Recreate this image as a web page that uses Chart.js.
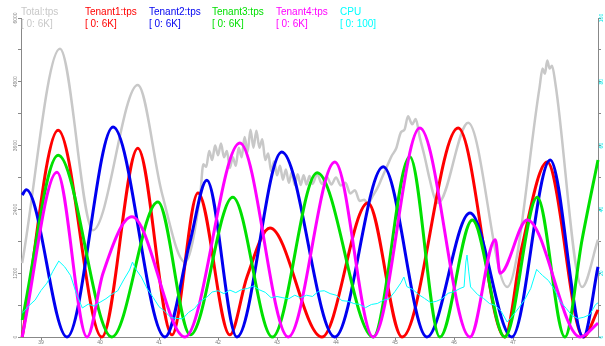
<!DOCTYPE html>
<html lang="en">
<head>
<meta charset="UTF-8">
<title>tps / CPU</title>
<script src="https://cdn.jsdelivr.net/npm/chart.js@4.4.1/dist/chart.umd.min.js"></script>
<style>
    html, body { margin: 0; padding: 0; background: #fff; }
    .wrap { position: relative; width: 605px; height: 346px; }
    .legend { position: absolute; top: 6px; font-family: 'Liberation Sans', Arial, sans-serif; font-size: 10px; line-height: 12px; white-space: nowrap; }
</style>
</head>
<body>
<div class="wrap" id="wrap">
    <canvas id="c" width="605" height="346"></canvas>
</div>
<script>
// legend text
const seriesNames  = ['Total:tps', 'Tenant1:tps', 'Tenant2:tps', 'Tenant3:tps', 'Tenant4:tps', 'CPU'];
const seriesRanges = ['[ 0: 6K]', '[ 0: 6K]', '[ 0: 6K]', '[ 0: 6K]', '[ 0: 6K]', '[ 0: 100]'];
const seriesColors = ['#c8c8c8', '#ff0000', '#0000f0', '#00e000', '#ff00ff', '#00ffff'];

// tick labels
const xTickLabels     = [39, 40, 41, 42, 43, 44, 45, 46, 47];
const leftTickLabels  = [0, 1200, 2400, 3600, 4800, 6000];
const rightTickLabels = [0, 20, 40, 60, 80, 100];

// Total tps (noisy parts read as a zigzag)
const totalX = [38.68, 39.32, 39.88, 40.64, 41.05, 41.44,
                41.70, 41.75, 41.80, 41.85, 41.90, 41.95, 42.00, 42.05, 42.10, 42.15, 42.20, 42.25, 42.30, 42.35, 42.40, 42.45, 42.50,
                42.55, 42.60, 42.65, 42.70, 42.75, 42.80, 42.85, 42.90, 42.95, 43.00, 43.05, 43.10, 43.15, 43.20, 43.25, 43.30, 43.35,
                43.40, 43.45, 43.50, 43.55, 43.60, 43.68, 43.76, 43.84, 43.92, 44.00, 44.08, 44.16, 44.24, 44.32, 44.40, 44.48, 44.54,
                44.62, 44.70, 44.78, 44.86, 44.94, 45.02, 45.10, 45.16, 45.22, 45.29, 45.35, 45.42, 45.50, 45.58, 45.66, 45.73,
                46.24, 46.90, 47.45, 47.50, 47.54, 47.58, 47.62, 47.66, 47.72, 48.17, 48.44];
const totalY = [1390, 5420, 2010, 4740, 2700, 1410,
                2700, 3250, 3200, 3500, 3330, 3600, 3420, 3640, 3380, 3500, 3180, 3380, 3220, 3560, 3380, 3760, 3480,
                3900, 3560, 3880, 3560, 3720, 3330, 3450, 3120, 3300, 3040, 3220, 2960, 3150, 2900, 3100, 2860, 3060,
                2860, 3040, 2870, 3030, 2880, 3060, 2880, 3020, 2870, 3000, 2850, 2900, 2700, 2760, 2560, 2580, 2500,
                2650, 2800, 3000, 3200, 3400, 3550, 3850, 3900, 4150, 4000, 4100, 3750, 3400, 3000, 2650, 2520,
                4030, 940, 4700, 5050, 4950, 5200, 5050, 5100, 4750, 940, 1830];

// Tenant1
const t1X = [38.68, 39.29, 40.03, 40.64, 41.22, 41.66, 42.20, 42.49, 42.88, 43.76, 44.54, 45.12, 46.07, 46.86, 47.15, 47.58, 48.19, 48.44];
const t1Y = [0, 3890, 0, 3550, 40, 2710, 40, 1130, 2050, 0, 2520, 0, 3930, 0, 1690, 3290, 0, 510];

// Tenant2
const t2X = [38.68, 38.75, 39.44, 40.22, 41.10, 41.52, 41.81, 42.32, 43.08, 43.98, 44.80, 45.54, 46.27, 46.98, 47.63, 48.19, 48.44];
const t2Y = [2670, 2770, 0, 3950, 0, 1770, 2950, 0, 3480, 0, 3200, 0, 2330, 0, 3330, 0, 1320];

// Tenant3
const t3X = [38.68, 39.29, 40.20, 40.98, 41.53, 42.25, 42.92, 43.68, 44.63, 45.25, 45.76, 46.31, 46.86, 47.41, 47.88, 48.17, 48.44];
const t3Y = [320, 3420, 0, 2540, 40, 2630, 0, 3090, 0, 3390, 0, 2200, 0, 2630, 0, 1830, 3330];

// Tenant4
const t4X = [38.68, 39.27, 39.78, 40.05, 40.54, 41.44, 42.37, 43.19, 43.98, 44.63, 45.42, 46.27, 46.70, 46.78, 47.24, 48.14, 48.44];
const t4Y = [0, 3100, 0, 1200, 2260, 0, 3650, 0, 3290, 0, 3930, 0, 1830, 1200, 2200, 0, 260];

// CPU (%)
const cpuX = [38.68, 38.7, 38.8, 38.9, 39.0, 39.1, 39.2, 39.3, 39.4, 39.5, 39.6, 39.7, 39.8, 39.9, 40.0, 40.1, 40.2, 40.3, 40.4, 40.5, 40.55, 40.6, 40.7, 40.8, 40.9,
              41.0, 41.1, 41.2, 41.3, 41.4, 41.5, 41.6, 41.7, 41.8, 41.9, 42.0, 42.1, 42.2, 42.3, 42.4, 42.5, 42.6, 42.7, 42.8, 42.9,
              43.0, 43.1, 43.2, 43.3, 43.4, 43.5, 43.6, 43.7, 43.8, 43.9, 44.0, 44.1, 44.2, 44.3, 44.4, 44.5, 44.6, 44.7, 44.8, 44.9,
              45.0, 45.1, 45.15, 45.2, 45.3, 45.4, 45.5, 45.6, 45.7, 45.8, 45.9, 46.0, 46.1, 46.17, 46.2, 46.22, 46.25, 46.28, 46.4, 46.5, 46.6, 46.7, 46.8, 46.9,
              47.0, 47.1, 47.2, 47.3, 47.4, 47.45, 47.5, 47.6, 47.7, 47.8, 47.9, 48.0, 48.1, 48.2, 48.3, 48.4, 48.44];
const cpuY = [7.5, 7.8, 9.9, 11.6, 14.6, 16.9, 20.6, 23.8, 22.0, 19.3, 13.5, 9.1, 10.3, 9.7, 10.9, 12.0, 13.4, 14.5, 17.9, 21.0, 23.5, 21.4, 18.8, 15.1, 12.4,
              9.5, 8.0, 6.1, 5.8, 5.7, 7.7, 8.9, 11.2, 12.3, 14.1, 14.5, 13.6, 14.7, 13.9, 14.9, 15.2, 16.0, 14.8, 14.0, 12.3,
              12.7, 12.3, 12.0, 13.1, 12.3, 13.1, 12.7, 14.3, 14.5, 13.6, 13.1, 11.4, 11.2, 10.5, 10.2, 9.2, 10.2, 10.5, 11.5, 12.0,
              14.3, 17.0, 18.8, 15.8, 14.9, 13.3, 12.1, 10.8, 11.2, 12.0, 13.7, 14.2, 15.2, 15.7, 23.5, 25.7, 20.4, 15.7, 13.3, 12.1, 10.5, 9.9, 8.0, 4.7,
              6.8, 9.2, 11.8, 15.2, 21.2, 20.2, 19.3, 17.7, 14.9, 11.1, 9.0, 6.7, 5.8, 6.2, 7.0, 10.2, 10.7];

const seriesX = [totalX, t1X, t2X, t3X, t4X, cpuX];
const seriesY = [totalY, t1Y, t2Y, t3Y, t4Y, cpuY];

// legend (html text over the canvas)
const wrap = document.getElementById('wrap');
seriesNames.forEach((name, i) => {
    const d = document.createElement('div');
    d.className = 'legend';
    d.style.left = (21 + Math.round(i * 63.8)) + 'px';
    d.style.color = seriesColors[i];
    d.innerHTML = `${name}<br>${seriesRanges[i]}`;
    wrap.appendChild(d);
});

// y axis labels are drawn rotated, like the original tool does
const rotatedLabels = {
    id: 'rotatedLabels',
    afterDraw(chart) {
        const ctx = chart.ctx;
        ctx.save();
        ctx.font = '5px "Liberation Sans", Arial, sans-serif';
        ctx.textAlign = 'center';
        ctx.textBaseline = 'middle';
        const sides = [
            { scale: chart.scales.y,  labels: leftTickLabels,  x: 16,  color: '#888' },
            { scale: chart.scales.y1, labels: rightTickLabels, x: 602, color: '#00e8e8' }
        ];
        sides.forEach(s => {
            ctx.fillStyle = s.color;
            s.labels.forEach(v => {
                const y = s.scale.getPixelForValue(v);
                ctx.save();
                ctx.translate(s.x, y);
                ctx.rotate(-Math.PI / 2);
                ctx.fillText(String(v), 0, 0);
                ctx.restore();
            });
        });
        ctx.restore();
    }
};

const datasets = seriesNames.map((name, i) => ({
    label: name,
    data: seriesX[i].map((x, j) => ({ x: x, y: seriesY[i][j] })),
    borderColor: seriesColors[i],
    borderWidth: i === 5 ? 1 : (i === 0 ? 2.5 : 3),
    pointRadius: 0,
    cubicInterpolationMode: i === 5 ? 'default' : 'monotone',
    tension: 0,
    yAxisID: i === 5 ? 'y1' : 'y',
    order: 6 - i,
    clip: 3
}));

new Chart(document.getElementById('c').getContext('2d'), {
    type: 'line',
    data: { datasets },
    options: {
        responsive: false,
        animation: false,
        events: [],
        layout: { padding: { top: 18, left: 0, right: 0, bottom: 0 } },
        plugins: { legend: { display: false }, tooltip: { enabled: false } },
        scales: {
            x: {
                type: 'linear',
                min: 38.66,
                max: 48.44,
                afterFit: s => { s.height = 9; },
                grid: { drawOnChartArea: false, color: '#888', tickLength: 3 },
                border: { color: '#888' },
                ticks: {
                    stepSize: 1,
                    includeBounds: false,
                    autoSkip: false,
                    maxRotation: 0,
                    padding: 0,
                    color: '#777',
                    font: { size: 5 },
                    callback: v => xTickLabels.includes(v) ? String(v) : ''
                }
            },
            y: {
                position: 'left',
                min: 0,
                max: 6000,
                afterFit: s => { s.width = 21; },
                grid: { drawOnChartArea: false, color: '#888', tickLength: 3 },
                border: { color: '#888' },
                ticks: { stepSize: 600, display: false }
            },
            y1: {
                position: 'right',
                min: 0,
                max: 100,
                afterFit: s => { s.width = 7; },
                grid: { drawOnChartArea: false, color: '#888', tickLength: 3 },
                border: { color: '#888' },
                ticks: { stepSize: 10, display: false }
            }
        }
    },
    plugins: [rotatedLabels]
});
</script>
</body>
</html>
